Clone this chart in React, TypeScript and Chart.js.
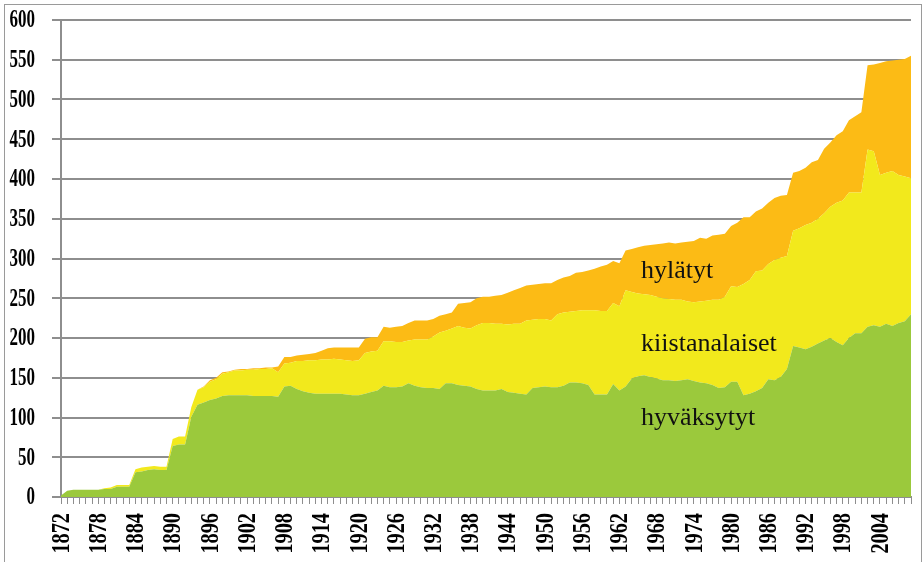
import React, { useEffect, useRef } from "react";
import { Chart, registerables } from "chart.js";

Chart.register(...registerables);

const years = [
  1872, 1873, 1874, 1875, 1876, 1877, 1878, 1879,
  1880, 1881, 1882, 1883, 1884, 1885, 1886, 1887, 1888, 1889,
  1890, 1891, 1892, 1893, 1894, 1895, 1896, 1897, 1898, 1899,
  1900, 1901, 1902, 1903, 1904, 1905, 1906, 1907, 1908, 1909,
  1910, 1911, 1912, 1913, 1914, 1915, 1916, 1917, 1918, 1919,
  1920, 1921, 1922, 1923, 1924, 1925, 1926, 1927, 1928, 1929,
  1930, 1931, 1932, 1933, 1934, 1935, 1936, 1937, 1938, 1939,
  1940, 1941, 1942, 1943, 1944, 1945, 1946, 1947, 1948, 1949,
  1950, 1951, 1952, 1953, 1954, 1955, 1956, 1957, 1958, 1959,
  1960, 1961, 1962, 1963, 1964, 1965, 1966, 1967, 1968, 1969,
  1970, 1971, 1972, 1973, 1974, 1975, 1976, 1977, 1978, 1979,
  1980, 1981, 1982, 1983, 1984, 1985, 1986, 1987, 1988, 1989,
  1990, 1991, 1992, 1993, 1994, 1995, 1996, 1997, 1998, 1999,
  2000, 2001, 2002, 2003, 2004, 2005, 2006, 2007, 2008, 2009,
];

const hyvaksytyt = [
  2, 8, 9, 9, 9, 9, 9, 10,
  10, 13, 13, 13, 31, 32, 34, 35, 34, 34,
  64, 66, 66, 101, 116, 119, 122, 124, 127, 128,
  128, 128, 128, 127, 127, 127, 127, 126, 139, 140,
  136, 133, 131, 130, 130, 130, 130, 130, 129, 128,
  128, 130, 132, 134, 140, 138, 138, 139, 143, 140,
  138, 137, 137, 136, 143, 143, 141, 140, 139, 136,
  134, 134, 134, 136, 132, 131, 130, 129, 137, 138,
  139, 138, 138, 140, 144, 144, 143, 141, 129, 129,
  129, 142, 134, 139, 149, 152, 153, 151, 149, 147,
  147, 146, 147, 148, 146, 144, 143, 141, 137, 138,
  145, 145, 128, 130, 133, 137, 148, 147, 151, 161,
  190, 188, 186, 189, 193, 197, 200, 195, 191, 200,
  206, 206, 214, 216, 214, 218, 215, 219, 221, 230,
];

const kiistanalaiset = [
  0, 0, 0, 0, 0, 0, 0, 1,
  2, 2, 2, 2, 4, 5, 4, 4, 4, 4,
  9, 10, 10, 12, 19, 19, 23, 24, 28, 29,
  31, 31, 32, 33, 34, 34, 35, 31, 29, 29,
  35, 38, 41, 42, 43, 43, 44, 43, 43, 43,
  44, 51, 51, 50, 56, 58, 57, 56, 54, 58,
  60, 61, 65, 71, 66, 69, 74, 73, 73, 80,
  85, 85, 84, 82, 85, 87, 88, 93, 86, 86,
  85, 84, 92, 92, 89, 90, 92, 94, 106, 105,
  105, 102, 106, 121, 109, 104, 102, 103, 103, 103,
  102, 102, 101, 98, 99, 102, 104, 107, 111, 114,
  120, 119, 140, 143, 151, 148, 145, 151, 150, 142,
  145, 150, 156, 156, 157, 160, 165, 175, 182, 183,
  177, 177, 223, 219, 191, 190, 195, 186, 182, 171,
];

const hylatyt = [
  0, 0, 0, 0, 0, 0, 0, 0,
  0, 0, 0, 0, 0, 0, 0, 0, 0, 0,
  0, 0, 0, 0, 0, 1, 2, 2, 2, 1,
  1, 2, 1, 2, 1, 2, 1, 7, 8, 7,
  7, 8, 8, 9, 11, 14, 14, 15, 16, 17,
  16, 18, 18, 17, 18, 17, 19, 20, 22, 24,
  24, 24, 22, 21, 21, 20, 28, 31, 33, 34,
  33, 33, 35, 36, 40, 42, 45, 44, 44, 44,
  45, 47, 43, 44, 45, 48, 48, 50, 52, 56,
  58, 53, 54, 50, 54, 58, 61, 63, 66, 69,
  71, 71, 72, 75, 77, 80, 78, 81, 82, 79,
  76, 81, 84, 79, 75, 78, 77, 78, 78, 77,
  73, 72, 72, 76, 74, 81, 81, 85, 87, 91,
  96, 101, 106, 109, 141, 140, 139, 145, 148, 154,
];

const xTickLabels = [
  "1872", "1878", "1884", "1890", "1896", "1902", "1908", "1914",
  "1920", "1926", "1932", "1938", "1944", "1950", "1956", "1962",
  "1968", "1974", "1980", "1986", "1992", "1998", "2004",
];

const yMin = 0;
const yMax = 600;
const yStep = 50;

const GREEN = "#9bc93c";
const YELLOW = "#f2e91c";
const ORANGE = "#fcbb15";
const GRAY = "#8e8e8e";

// series name annotations: [text, category position, value at baseline]
const seriesNotes: [string, number, number][] = [
  ["hylätyt", 93.5, 275],
  ["kiistanalaiset", 93.5, 184],
  ["hyväksytyt", 93.5, 91],
];

const tickTextPlugin = {
  id: "tickText",
  afterDraw(chart: any) {
    const ctx = chart.ctx;
    const ys = chart.scales.y;
    const xs = chart.scales.x;
    ctx.save();
    ctx.fillStyle = "#000";
    ctx.font = 'bold 25px "Liberation Serif", serif';
    ctx.textAlign = "right";
    ctx.textBaseline = "middle";
    ys.ticks.forEach((t: any, i: number) => {
      const y = ys.getPixelForTick(i);
      ctx.save();
      ctx.translate(ys.right - 26, y + 1);
      ctx.scale(0.68, 1);
      ctx.fillText(String(t.value), 0, 0);
      ctx.restore();
    });
    ctx.font = 'bold 26px "Liberation Serif", serif';
    xTickLabels.forEach((lbl) => {
      const idx = years.indexOf(Number(lbl));
      if (idx < 0) return;
      const x = xs.getPixelForValue(idx);
      ctx.save();
      ctx.translate(x + 1, xs.top + 16);
      ctx.rotate(-Math.PI / 2);
      ctx.scale(0.78, 1);
      ctx.fillText(lbl, 0, 0);
      ctx.restore();
    });
    ctx.restore();
  },
  afterDatasetsDraw(chart: any) {
    const ctx = chart.ctx;
    const ys = chart.scales.y;
    const xs = chart.scales.x;
    ctx.save();
    ctx.fillStyle = "#111";
    ctx.font = '26px "Liberation Serif", serif';
    ctx.textAlign = "left";
    ctx.textBaseline = "alphabetic";
    seriesNotes.forEach(([txt, xi, v]) => {
      ctx.fillText(txt, xs.getPixelForValue(xi), ys.getPixelForValue(v));
    });
    ctx.restore();
  },
};

export default function App() {
  const ref = useRef<HTMLCanvasElement | null>(null);

  useEffect(() => {
    if (!ref.current) return;
    const common = {
      borderWidth: 0,
      borderColor: "rgba(0,0,0,0)",
      pointRadius: 0,
      tension: 0,
    };
    const chart = new Chart(ref.current, {
      type: "line",
      data: {
        labels: years,
        datasets: [
          { label: "hyväksytyt", data: hyvaksytyt, backgroundColor: GREEN, fill: "origin", ...common },
          { label: "kiistanalaiset", data: kiistanalaiset, backgroundColor: YELLOW, fill: "-1", ...common },
          { label: "hylätyt", data: hylatyt, backgroundColor: ORANGE, fill: "-1", ...common },
        ],
      },
      options: {
        animation: false,
        responsive: false,
        maintainAspectRatio: false,
        layout: { padding: { left: 0, top: 20, right: 13, bottom: 0 } },
        plugins: {
          legend: { display: false },
          tooltip: { enabled: false },
        },
        scales: {
          x: {
            type: "category",
            grid: {
              drawOnChartArea: false,
              drawTicks: true,
              tickLength: 7,
              color: GRAY,
              lineWidth: 1,
            },
            border: { color: GRAY, width: 2 },
            ticks: { display: false, autoSkip: false },
            afterFit: (s: any) => {
              s.height = 65;
            },
          },
          y: {
            stacked: true,
            min: yMin,
            max: yMax,
            ticks: { stepSize: yStep, display: false },
            grid: { color: GRAY, lineWidth: 2, tickLength: 9 },
            border: { color: GRAY, width: 2 },
            afterFit: (s: any) => {
              s.width = 61;
            },
          },
        },
      } as any,
      plugins: [tickTextPlugin],
    });
    return () => chart.destroy();
  }, []);

  return (
    <div
      style={{
        position: "fixed",
        left: 0,
        top: 0,
        width: 924,
        height: 562,
        overflow: "hidden",
        background: "#fff",
      }}
    >
      <div
        style={{
          position: "absolute",
          left: 4,
          top: 4,
          width: 916,
          height: 620,
          border: "1px solid #9a9a9a",
        }}
      />
      <canvas
        ref={ref}
        width={924}
        height={562}
        style={{ position: "absolute", left: 0, top: 0 }}
      />
    </div>
  );
}
